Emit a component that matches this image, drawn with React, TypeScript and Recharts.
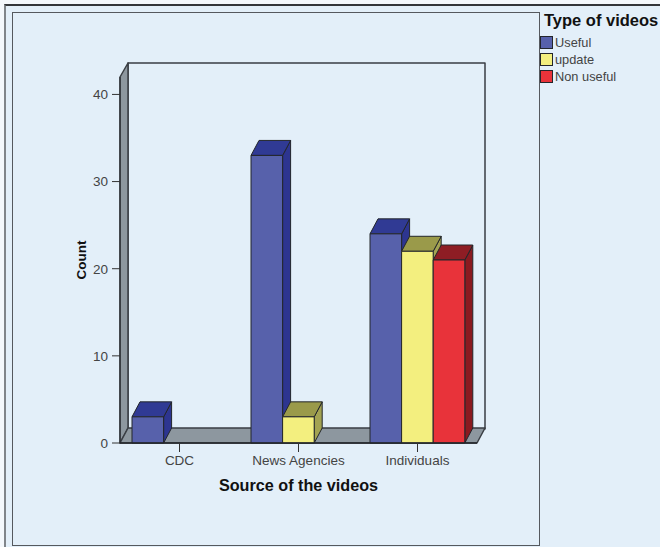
import { Bar, BarChart, Label, Legend, ReferenceArea, XAxis, YAxis } from "recharts";

const sources = ["CDC", "News Agencies", "Individuals"];
const useful = [3, 33, 24];
const update = [0, 3, 22];
const nonUseful = [0, 0, 21];
const countTicks = [0, 10, 20, 30, 40];

const data = sources.map((source, i) => ({
  source,
  useful: useful[i],
  update: update[i],
  nonUseful: nonUseful[i],
}));

const FONT = "'Liberation Sans', Arial, sans-serif";
const PANEL = "#e3eff9";
const EDGE = "#23262b";
const WALL = "#8d979f";
const BAR_WIDTH = 31.6;
// how far the extruded faces are pushed back and up
const DEPTH_X = 8;
const DEPTH_Y = 15;

const shades = {
  useful: { front: "#5761ab", top: "#303a94", side: "#2d3590" },
  update: { front: "#f3ef7f", top: "#9a9a4a", side: "#a3a352" },
  nonUseful: { front: "#e8333a", top: "#8e1d24", side: "#8a1a20" },
};

function pts(...p: number[][]) {
  return p.map((q) => q.join(",")).join(" ");
}

function Box3D({ x, y, width, height, series }: any) {
  if (!height || height <= 0) return null;
  const c = shades[series as keyof typeof shades];
  const r = x + width;
  const b = y + height;
  return (
    <g stroke={EDGE} strokeWidth={1} strokeLinejoin="round">
      <polygon
        fill={c.side}
        points={pts([r, y], [r + DEPTH_X, y - DEPTH_Y], [r + DEPTH_X, b - DEPTH_Y], [r, b])}
      />
      <polygon
        fill={c.top}
        points={pts([x, y], [x + DEPTH_X, y - DEPTH_Y], [r + DEPTH_X, y - DEPTH_Y], [r, y])}
      />
      <rect x={x} y={y} width={width} height={height} fill={c.front} />
    </g>
  );
}

// back wall, left wall and floor of the 3D plot box
function PlotBox({ x, y, width, height }: any) {
  const r = x + width;
  const b = y + height;
  return (
    <g stroke="#3a3e44" strokeWidth={1.5} strokeLinejoin="round">
      <rect x={x + DEPTH_X} y={y - DEPTH_Y + 1} width={width} height={height} fill={PANEL} />
      <polygon
        fill={WALL}
        points={pts([x, y], [x + DEPTH_X, y - DEPTH_Y + 1], [x + DEPTH_X, b - DEPTH_Y], [x, b])}
      />
      <polygon
        fill={WALL}
        points={pts([x, b], [x + DEPTH_X, b - DEPTH_Y], [r + DEPTH_X, b - DEPTH_Y], [r, b])}
      />
    </g>
  );
}

function VideoLegend({ payload }: any) {
  return (
    <div style={{ fontFamily: FONT }}>
      <div style={{ fontWeight: 700, fontSize: 16.5, color: "#111", lineHeight: "18px", marginLeft: 4, whiteSpace: "nowrap" }}>
        Type of videos
      </div>
      <div style={{ marginTop: 5 }}>
        {(payload ?? []).map((entry: any) => (
          <div key={entry.value} style={{ display: "flex", alignItems: "center", height: 17 }}>
            <span
              style={{
                width: 11,
                height: 11,
                background: entry.color,
                border: `1px solid ${EDGE}`,
                display: "inline-block",
              }}
            />
            <span style={{ fontSize: 12.8, color: "#444", marginLeft: 2 }}>{entry.value}</span>
          </div>
        ))}
      </div>
    </div>
  );
}

export default function App() {
  return (
    <div style={{ position: "absolute", left: 0, top: 0, width: 660, height: 547, background: "#f4f8fc", overflow: "hidden" }}>
      <div
        style={{
          position: "absolute",
          left: 4,
          top: 4,
          width: 660,
          height: 547,
          background: PANEL,
          borderTop: "2px solid #33363a",
          borderLeft: "2px solid #80858a",
        }}
      />
      <div
        style={{
          position: "absolute",
          left: 12,
          top: 12,
          width: 526,
          height: 532,
          border: "1.5px solid #55595e",
        }}
      />
      <div style={{ position: "absolute", left: 0, top: 0 }}>
        <BarChart
          width={660}
          height={547}
          data={data}
          margin={{ top: 77, right: 183, bottom: 64, left: 80 }}
          barGap={0}
          barSize={BAR_WIDTH}
        >
          <XAxis
            dataKey="source"
            height={40}
            interval={0}
            tickSize={9}
            tickMargin={3}
            tick={{ fill: "#444", fontSize: 13.5, fontFamily: FONT }}
            axisLine={{ stroke: EDGE, strokeWidth: 1.5 }}
            tickLine={{ stroke: "#333" }}
          >
            <Label
              value="Source of the videos"
              position="insideBottom"
              offset={-8}
              style={{ fill: "#111", fontSize: 16.2, fontWeight: 700, fontFamily: FONT }}
            />
          </XAxis>
          <YAxis
            width={40}
            domain={[0, 42]}
            ticks={countTicks}
            tickSize={8}
            tickMargin={4}
            tick={{ fill: "#444", fontSize: 13.5, fontFamily: FONT }}
            axisLine={{ stroke: EDGE, strokeWidth: 1 }}
            tickLine={{ stroke: "#333" }}
          >
            <Label
              value="Count"
              angle={-90}
              position="insideLeft"
              offset={1}
              style={{ fill: "#111", fontSize: 13.5, fontWeight: 700, fontFamily: FONT, textAnchor: "middle" }}
            />
          </YAxis>
          <ReferenceArea y1={0} y2={42} shape={<PlotBox />} />
          <Legend
            layout="vertical"
            align="center"
            verticalAlign="middle"
            itemSorter={null}
            content={<VideoLegend />}
            wrapperStyle={{ position: "absolute", left: 540, top: 11, width: 120 }}
          />
          <Bar
            dataKey="useful"
            name="Useful"
            fill={shades.useful.front}
            isAnimationActive={false}
            shape={(p: any) => <Box3D {...p} series="useful" />}
          />
          <Bar
            dataKey="update"
            name="update"
            fill={shades.update.front}
            isAnimationActive={false}
            shape={(p: any) => <Box3D {...p} series="update" />}
          />
          <Bar
            dataKey="nonUseful"
            name="Non useful"
            fill={shades.nonUseful.front}
            isAnimationActive={false}
            shape={(p: any) => <Box3D {...p} series="nonUseful" />}
          />
        </BarChart>
      </div>
    </div>
  );
}
